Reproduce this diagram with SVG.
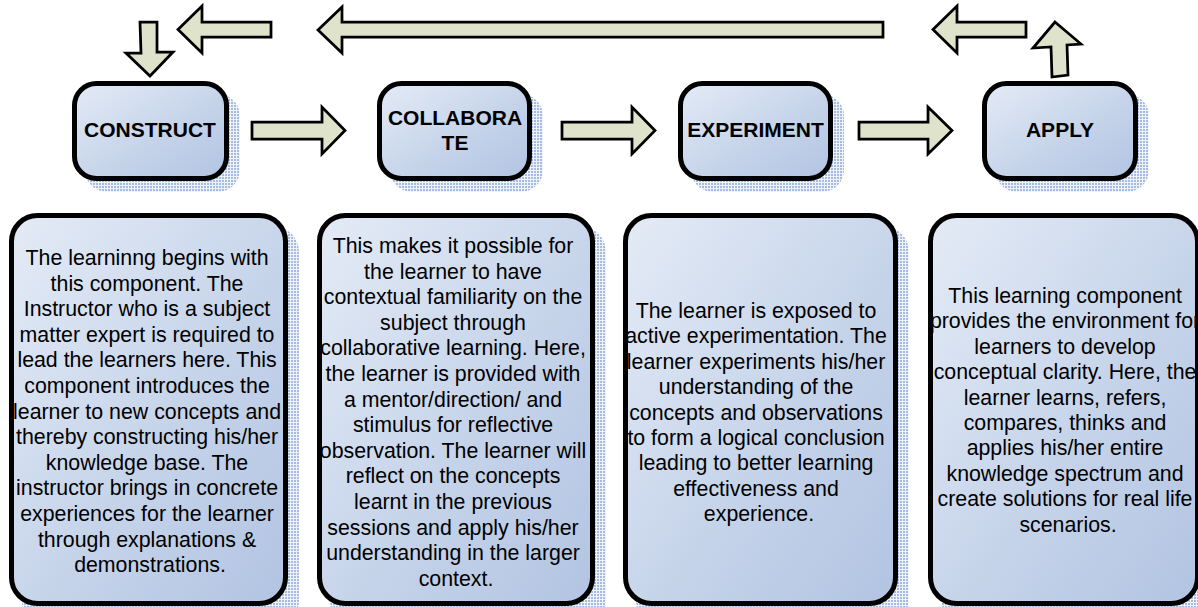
<svg xmlns="http://www.w3.org/2000/svg" width="1198" height="607" viewBox="0 0 1198 607">
<defs>
<linearGradient id="boxfill" x1="0" y1="0" x2="1" y2="1">
<stop offset="0" stop-color="#e4ebf6"/>
<stop offset="0.55" stop-color="#c6d4ea"/>
<stop offset="1" stop-color="#b2c4e2"/>
</linearGradient>
<pattern id="dots" width="3" height="3" patternUnits="userSpaceOnUse">
<rect width="3" height="3" fill="#eef2fa"/>
<rect x="0" y="0" width="2" height="2" fill="#a7bbe0"/>
</pattern>
<style>
.box{fill:url(#boxfill);stroke:#000;stroke-width:5}
.shadow{fill:url(#dots);stroke:none}
.arrow{fill:#dfe3cb;stroke:#000;stroke-width:2.75;stroke-linejoin:miter}
.title{font-family:"Liberation Sans",Arial,sans-serif;font-weight:bold;font-size:21px;fill:#000;text-anchor:middle}
.body{font-family:"Liberation Sans",Arial,sans-serif;font-size:21.33px;fill:#000;text-anchor:middle}
</style>
</defs>
<rect width="1198" height="607" fill="#fff"/>

<g id="construct">
<rect class="shadow" x="85" y="94" width="155" height="98" rx="22"/>
<rect class="box" x="74.5" y="83.5" width="152" height="95" rx="22"/>
<text class="title" x="150" y="137">CONSTRUCT</text>
</g>
<g id="collaborate">
<rect class="shadow" x="390" y="94" width="153" height="98" rx="22"/>
<rect class="box" x="379.5" y="83.5" width="150" height="95" rx="22"/>
<text class="title" x="455" y="125">COLLABORA</text>
<text class="title" x="455" y="150">TE</text>
</g>
<g id="experiment">
<rect class="shadow" x="691" y="94" width="153" height="98" rx="22"/>
<rect class="box" x="680.5" y="83.5" width="150" height="95" rx="22"/>
<text class="title" x="755.5" y="137">EXPERIMENT</text>
</g>
<g id="apply">
<rect class="shadow" x="995" y="94" width="154" height="98" rx="22"/>
<rect class="box" x="984.5" y="83.5" width="151" height="95" rx="22"/>
<text class="title" x="1060" y="137">APPLY</text>
</g>

<g id="construct-desc">
<rect class="shadow" x="22" y="226" width="277" height="400" rx="26"/>
<rect class="box" x="11.5" y="215.5" width="274" height="388" rx="26"/>
<text class="body" y="265">
<tspan x="150" dy="0">The learninng begins with</tspan>
<tspan x="150" dy="25.6">this component. The</tspan>
<tspan x="150" dy="25.6">Instructor who is a subject</tspan>
<tspan x="150" dy="25.6">matter expert is required to</tspan>
<tspan x="150" dy="25.6">lead the learners here. This</tspan>
<tspan x="150" dy="25.6">component introduces the</tspan>
<tspan x="150" dy="25.6">learner to new concepts and</tspan>
<tspan x="150" dy="25.6">thereby constructing his/her</tspan>
<tspan x="150" dy="25.6">knowledge base. The</tspan>
<tspan x="150" dy="25.6">instructor brings in concrete</tspan>
<tspan x="150" dy="25.6">experiences for the learner</tspan>
<tspan x="150" dy="25.6">through explanations &amp;</tspan>
<tspan x="150" dy="25.6">demonstrations.</tspan>
</text>
</g>
<g id="collaborate-desc">
<rect class="shadow" x="330" y="226" width="276" height="400" rx="26"/>
<rect class="box" x="319.5" y="215.5" width="273" height="388" rx="26"/>
<text class="body" y="253">
<tspan x="456" dy="0">This makes it possible for</tspan>
<tspan x="456" dy="25.6">the learner to have</tspan>
<tspan x="456" dy="25.6">contextual familiarity on the</tspan>
<tspan x="456" dy="25.6">subject through</tspan>
<tspan x="456" dy="25.6">collaborative learning. Here,</tspan>
<tspan x="456" dy="25.6">the learner is provided with</tspan>
<tspan x="456" dy="25.6">a mentor/direction/ and</tspan>
<tspan x="456" dy="25.6">stimulus for reflective</tspan>
<tspan x="456" dy="25.6">observation. The learner will</tspan>
<tspan x="456" dy="25.6">reflect on the concepts</tspan>
<tspan x="456" dy="25.6">learnt in the previous</tspan>
<tspan x="456" dy="25.6">sessions and apply his/her</tspan>
<tspan x="456" dy="25.6">understanding in the larger</tspan>
<tspan x="456" dy="25.6">context.</tspan>
</text>
</g>
<g id="experiment-desc">
<rect class="shadow" x="636" y="226" width="273" height="400" rx="26"/>
<rect class="box" x="625.5" y="215.5" width="270" height="388" rx="26"/>
<text class="body" y="318">
<tspan x="759" dy="0">The learner is exposed to</tspan>
<tspan x="759" dy="25.4">active experimentation. The</tspan>
<tspan x="759" dy="25.4">learner experiments his/her</tspan>
<tspan x="759" dy="25.4">understanding of the</tspan>
<tspan x="759" dy="25.4">concepts and observations</tspan>
<tspan x="759" dy="25.4">to form a logical conclusion</tspan>
<tspan x="759" dy="25.4">leading to better learning</tspan>
<tspan x="759" dy="25.4">effectiveness and</tspan>
<tspan x="759" dy="25.4">experience.</tspan>
</text>
</g>
<g id="apply-desc">
<rect class="shadow" x="941" y="226" width="270" height="400" rx="26"/>
<rect class="box" x="930.5" y="215.5" width="267" height="388" rx="26"/>
<text class="body" y="303">
<tspan x="1068" dy="0">This learning component</tspan>
<tspan x="1068" dy="25.4">provides the environment for</tspan>
<tspan x="1068" dy="25.4">learners to develop</tspan>
<tspan x="1068" dy="25.4">conceptual clarity. Here, the</tspan>
<tspan x="1068" dy="25.4">learner learns, refers,</tspan>
<tspan x="1068" dy="25.4">compares, thinks and</tspan>
<tspan x="1068" dy="25.4">applies his/her entire</tspan>
<tspan x="1068" dy="25.4">knowledge spectrum and</tspan>
<tspan x="1068" dy="25.4">create solutions for real life</tspan>
<tspan x="1068" dy="25.4">scenarios.</tspan>
</text>
</g>

<g id="connectors">
<polygon class="arrow" points="252,122 322,122 322,107 345,130.5 322,154 322,139 252,139"/>
<polygon class="arrow" points="562,122 632,122 632,107 655,130.5 632,154 632,139 562,139"/>
<polygon class="arrow" points="859,122 928,122 928,107 952,130.5 928,154 928,139 859,139"/>
<polygon class="arrow" points="178,29.5 202,6 202,22 271,22 271,37 202,37 202,53"/>
<polygon class="arrow" points="318,30 342,7 342,22 883,22 883,37 342,37 342,53"/>
<polygon class="arrow" points="933,29.5 957,6 957,22 1026,22 1026,37 957,37 957,53"/>
<polygon class="arrow" points="140,22 157,22 157,52 173,52 150,76 126,53 141,53"/>
<polygon class="arrow" points="1055,22 1081,44 1067,45 1068,75 1052,77 1051,47 1033,48"/>
</g>
</svg>
